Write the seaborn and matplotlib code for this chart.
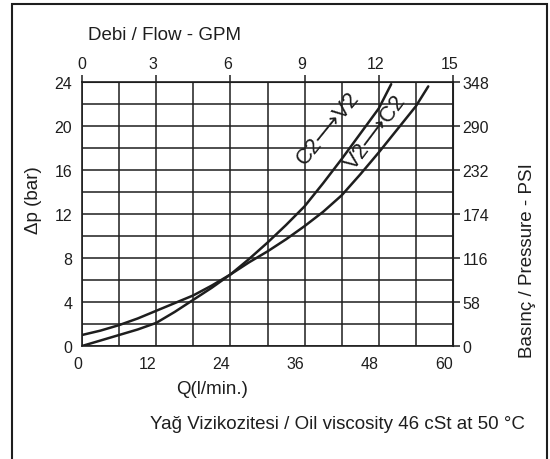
import matplotlib
matplotlib.use("Agg")
import matplotlib.pyplot as plt
import matplotlib.transforms as mtransforms
import seaborn as sns
import pandas as pd
from matplotlib.ticker import MultipleLocator
from matplotlib.patches import Rectangle

sns.set_style("white")
plt.rcParams['font.family'] = ['Liberation Sans', 'DejaVu Sans']

# C2 -> V2 curve
q_c2v2 = [0, 3, 6, 9, 12, 15, 18, 21, 24, 27, 30, 33, 36, 39, 42, 45, 48, 50]
dp_c2v2 = [0, 0.5, 1.0, 1.5, 2.1, 3.1, 4.2, 5.3, 6.5, 7.9, 9.4, 11.0, 12.7, 14.8, 17.0, 19.3, 21.6, 23.8]

# V2 -> C2 curve
q_v2c2 = [0, 3, 6, 9, 12, 15, 18, 21, 24, 27, 30, 33, 36, 39, 42, 45, 48, 51, 54, 56]
dp_v2c2 = [1.0, 1.4, 1.9, 2.5, 3.2, 3.9, 4.6, 5.5, 6.5, 7.6, 8.6, 9.7, 10.9, 12.2, 13.7, 15.6, 17.6, 19.7, 21.8, 23.6]

gpm_ticks = [0, 3, 6, 9, 12, 15]
psi_ticks = [0, 58, 116, 174, 232, 290, 348]

df = pd.concat([
    pd.DataFrame({'Q': q_c2v2, 'dp': dp_c2v2, 'curve': 'C2-V2'}),
    pd.DataFrame({'Q': q_v2c2, 'dp': dp_v2c2, 'curve': 'V2-C2'}),
])

ink = '#1e1e1e'
W, H = 550, 460
fig = plt.figure(figsize=(5.5, 4.6), dpi=100)
ax = fig.add_axes([82/W, 1 - 347/H, (453-82)/W, (347-83)/H])

sns.lineplot(data=df, x='Q', y='dp', hue='curve', palette=[ink, ink],
             linewidth=1.8, legend=False, ax=ax, sort=False)

ax.set_xlim(0, 60)
ax.set_ylim(0, 24)
ax.xaxis.set_major_locator(MultipleLocator(12))
ax.xaxis.set_minor_locator(MultipleLocator(6))
ax.yaxis.set_major_locator(MultipleLocator(4))
ax.yaxis.set_minor_locator(MultipleLocator(2))
ax.grid(True, which='both', color=ink, linewidth=1.1)
for s in ax.spines.values():
    s.set_color(ink)
    s.set_linewidth(1.2)

ax.tick_params(which='major', direction='out', length=5, width=1.1, color=ink,
               labelsize=11.5, labelcolor=ink, pad=2)
ax.tick_params(which='minor', length=0)
for lab in ax.get_xticklabels():
    lab.set_ha('right')

ax.set_xlabel('Q(l/min.)', fontsize=13.5, color=ink)
ax.xaxis.set_label_coords((212-82)/(453-82), -(390-347)/(347-83), transform=ax.transAxes)
ax.xaxis.label.set_va('center')
ax.set_ylabel('Δp (bar)', fontsize=13.5, color=ink)
ax.yaxis.set_label_coords(-(82-33)/(453-82), (347-200)/(347-83), transform=ax.transAxes)
ax.yaxis.label.set_va('center')

top = ax.secondary_xaxis('top', functions=(lambda q: q / 4, lambda g: g * 4))
top.set_xticks(gpm_ticks)
top.tick_params(direction='out', length=5, width=1.1, color=ink,
                labelsize=11.5, labelcolor=ink, pad=3)
shift = mtransforms.ScaledTranslation(-3/100, 0, fig.dpi_scale_trans)
for lab in top.get_xticklabels()[1:]:
    lab.set_transform(lab.get_transform() + shift)

right = ax.secondary_yaxis('right', functions=(lambda b: b * 14.5, lambda p: p / 14.5))
right.set_yticks(psi_ticks)
right.tick_params(direction='out', length=5, width=1.1, color=ink,
                  labelsize=11.5, labelcolor=ink, pad=2)

fig.text(88/W, 1 - 35/H, 'Debi / Flow - GPM', fontsize=13.5, color=ink, va='center')
fig.text(527/W, 1 - 261/H, 'Basınç / Pressure - PSI', fontsize=13.5, color=ink,
         rotation=90, ha='center', va='center')
fig.text(150/W, 1 - 425/H, 'Yağ Vizikozitesi / Oil viscosity 46 cSt at 50 °C',
         fontsize=13.5, color=ink, ha='left', va='center')

ax.text(39.8, 19.9, 'C2⟶V2', fontsize=16, rotation=51, ha='center', va='center', color=ink)
ax.text(47.6, 19.5, 'V2⟶C2', fontsize=16, rotation=53, ha='center', va='center', color=ink)

fig.patches.append(Rectangle((12/W, -0.01), (547-12)/W, 1 - 5/H + 0.01, transform=fig.transFigure,
                             fill=False, edgecolor=ink, linewidth=1.5))

fig.savefig('out.png', dpi=100)
